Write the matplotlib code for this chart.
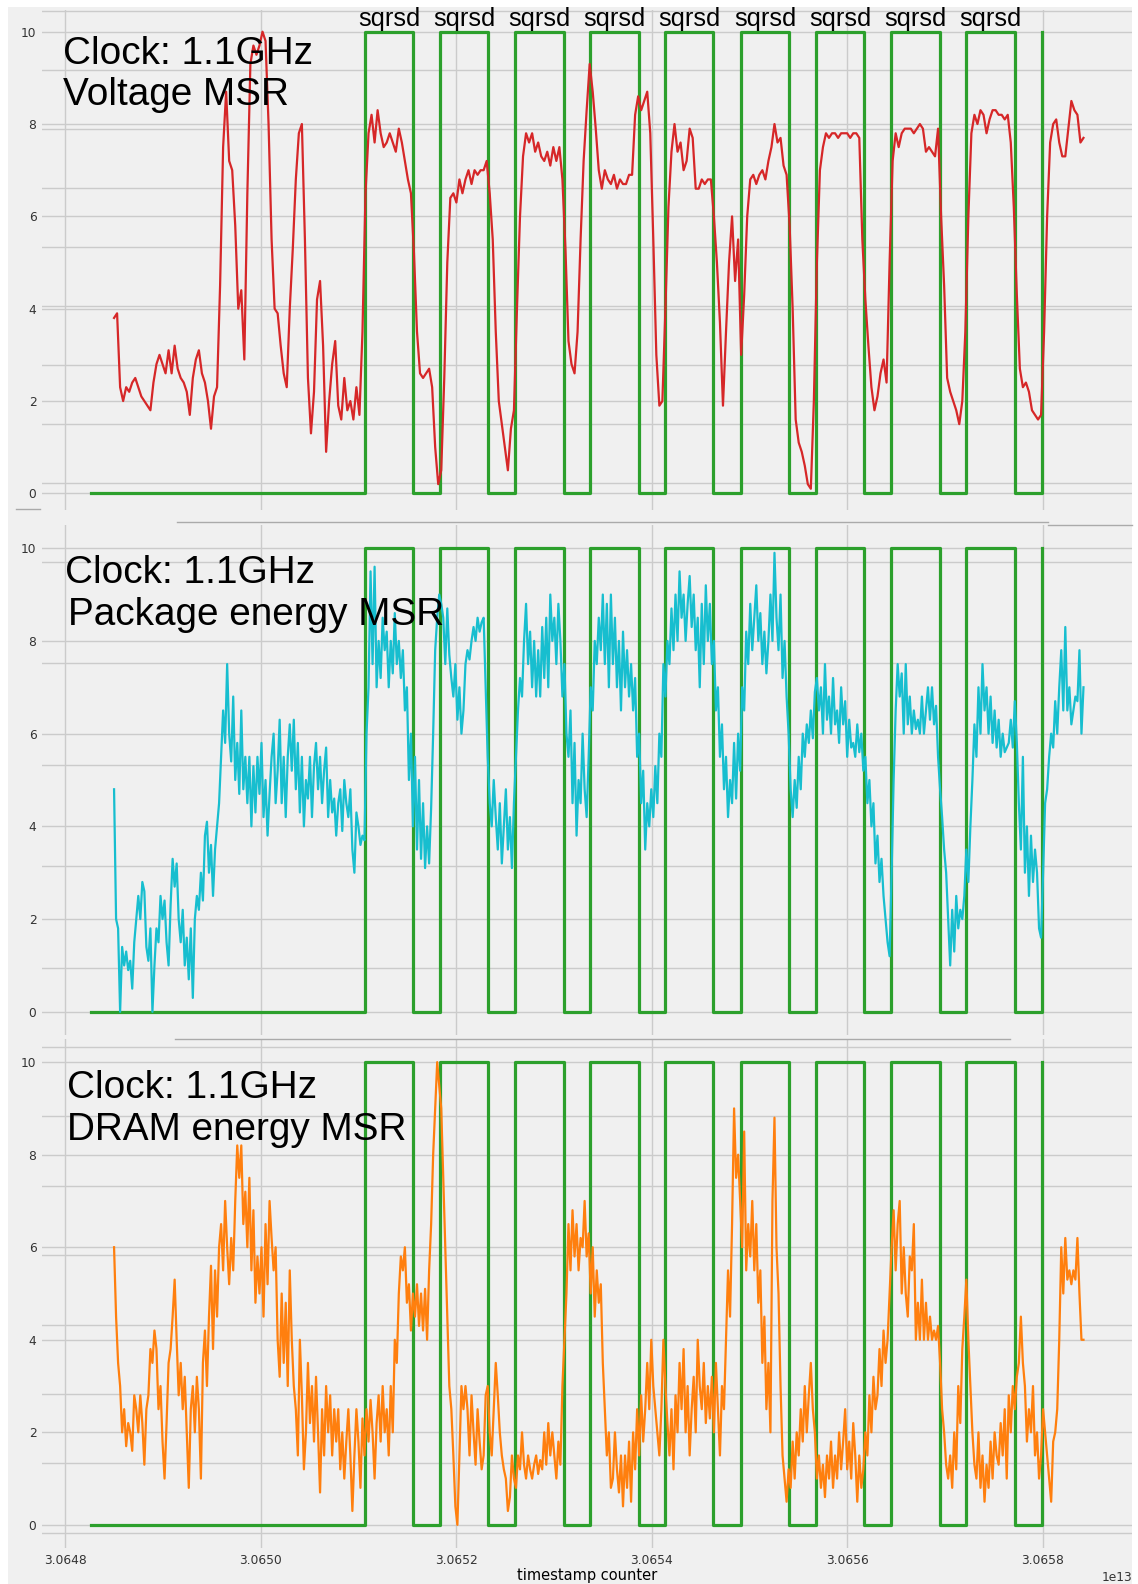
import numpy as np
import matplotlib
matplotlib.use("Agg")
import matplotlib.pyplot as plt
from matplotlib.ticker import FixedLocator, MultipleLocator
from matplotlib.lines import Line2D
from matplotlib.patches import Rectangle

# window in which the MSRs were sampled (tsc)
trace_start = 30648497000000
trace_end = 30658419000000

# sqrsd marker: rising / falling edges
wave_start = 30648258000000
pulse_rise = [30651065000000, 30651833000000, 30652601000000, 30653371000000, 30654136000000,
              30654911000000, 30655678000000, 30656449000000, 30657217000000, 30657991000000]
pulse_fall = [30651560000000, 30652327000000, 30653102000000, 30653870000000, 30654632000000,
              30655408000000, 30656176000000, 30656951000000, 30657715000000]
pulse_high = 10
pulse_label = "sqrsd"

# voltage MSR (scaled 0-10)
voltage = [3.8, 3.9, 2.3, 2.0, 2.3, 2.2, 2.4, 2.5, 2.3, 2.1, 2.0, 1.9, 1.8, 2.4, 2.8, 3.0, 2.8, 2.6, 3.1, 2.6,
           3.2, 2.7, 2.5, 2.4, 2.2, 1.7, 2.5, 2.9, 3.1, 2.6, 2.4, 2.0, 1.4, 2.1, 2.3, 4.5, 7.5, 8.7, 7.2, 7.0,
           5.8, 4.0, 4.4, 2.9, 6.5, 9.3, 9.7, 9.5, 9.7, 10.0, 9.8, 8.0, 5.5, 4.0, 3.9, 3.2, 2.6, 2.3, 4.0, 5.3,
           6.8, 7.8, 8.0, 5.5, 2.5, 1.3, 2.2, 4.2, 4.6, 3.2, 0.9, 2.0, 2.8, 3.3, 1.9, 1.6, 2.5, 1.8, 2.0, 1.6,
           2.3, 1.7, 3.5, 6.5, 7.8, 8.2, 7.6, 8.3, 7.8, 7.5, 7.6, 7.8, 7.6, 7.4, 7.9, 7.6, 7.2, 6.8, 6.5, 5.2,
           3.5, 2.6, 2.5, 2.6, 2.7, 2.3, 1.0, 0.2, 0.5, 2.5, 5.0, 6.4, 6.5, 6.3, 6.8, 6.5, 6.8, 7.0, 6.7, 7.0,
           6.9, 7.0, 7.0, 7.2, 6.5, 5.5, 3.5, 2.0, 1.5, 1.0, 0.5, 1.4, 1.8, 4.0, 6.0, 7.3, 7.8, 7.6, 7.8, 7.4,
           7.6, 7.3, 7.2, 7.4, 7.1, 7.5, 7.2, 7.5, 6.8, 5.3, 3.3, 2.8, 2.6, 3.5, 5.5, 7.2, 8.3, 9.3, 8.7, 7.9,
           7.0, 6.6, 7.0, 6.8, 6.7, 6.9, 6.6, 6.8, 6.7, 6.7, 6.9, 6.9, 8.2, 8.6, 8.3, 8.5, 8.7, 7.8, 5.5, 3.0,
           1.9, 2.0, 4.0, 6.2, 7.4, 8.0, 7.4, 7.6, 7.0, 7.2, 7.9, 7.7, 6.6, 6.6, 6.8, 6.7, 6.8, 6.8, 6.0, 5.0,
           3.7, 1.9, 3.5, 5.0, 6.0, 4.6, 5.5, 3.0, 4.3, 6.0, 6.8, 6.9, 6.7, 6.9, 7.0, 6.8, 7.2, 7.5, 8.0, 7.6,
           7.7, 7.1, 6.9, 5.8, 4.0, 1.6, 1.1, 0.9, 0.6, 0.2, 0.1, 2.0, 5.0, 7.0, 7.5, 7.8, 7.7, 7.8, 7.8, 7.7,
           7.8, 7.8, 7.8, 7.7, 7.8, 7.8, 7.7, 5.5, 4.2, 3.2, 2.3, 1.8, 2.1, 2.6, 2.9, 2.4, 5.0, 7.2, 7.8, 7.5,
           7.8, 7.9, 7.9, 7.9, 7.8, 7.9, 8.0, 7.9, 7.4, 7.5, 7.4, 7.3, 7.9, 6.0, 4.5, 2.5, 2.2, 2.0, 1.8, 1.5,
           2.0, 3.5, 6.0, 7.8, 8.2, 8.0, 8.3, 8.2, 7.8, 8.1, 8.3, 8.3, 8.2, 8.2, 8.1, 8.2, 7.6, 6.2, 4.3, 2.7,
           2.3, 2.4, 2.2, 1.8, 1.7, 1.6, 1.7, 3.5, 6.0, 7.6, 8.0, 8.1, 7.6, 7.3, 7.3, 7.9, 8.5, 8.3, 8.2, 7.6,
           7.7]

# package energy MSR (scaled 0-10)
package = [4.8, 2.0, 1.8, 0.0, 1.4, 1.0, 1.3, 0.9, 1.1, 0.5, 1.5, 2.0, 2.5, 2.0, 2.8, 2.6, 1.4, 1.1, 1.8, 0.0,
           1.0, 1.8, 1.5, 2.5, 2.0, 2.4, 1.5, 1.0, 2.3, 3.3, 2.7, 3.2, 2.0, 1.5, 2.2, 1.0, 1.6, 0.7, 1.8, 0.3,
           2.0, 2.5, 2.2, 3.0, 2.4, 3.8, 4.1, 3.0, 3.6, 2.5, 3.5, 4.0, 4.5, 5.5, 6.5, 5.8, 7.5, 6.0, 5.4, 6.8,
           5.0, 5.8, 4.7, 6.5, 4.8, 5.5, 4.5, 5.5, 4.0, 5.3, 4.3, 5.5, 4.7, 5.8, 4.2, 5.0, 3.8, 4.7, 5.5, 6.0,
           4.5, 5.2, 6.3, 4.5, 5.5, 4.2, 5.5, 6.2, 5.2, 6.3, 4.8, 5.8, 4.3, 5.5, 4.0, 5.0, 4.6, 5.5, 4.2, 5.3,
           5.8, 4.8, 5.5, 4.5, 5.2, 5.7, 4.2, 5.0, 4.3, 4.6, 3.8, 4.5, 4.8, 3.9, 5.0, 4.5, 4.2, 4.8, 3.5, 3.0,
           4.3, 4.0, 3.6, 3.8, 3.7, 6.0, 7.0, 9.5, 7.5, 9.6, 7.0, 8.0, 7.2, 8.5, 7.8, 8.2, 7.0, 8.0, 7.3, 8.6,
           7.5, 8.0, 7.2, 7.8, 6.5, 7.0, 5.0, 6.0, 4.0, 5.5, 3.5, 5.0, 3.3, 4.5, 3.1, 4.0, 3.2, 4.4, 6.0, 7.8,
           8.5, 9.0, 8.8, 8.5, 7.5, 8.7, 7.7, 7.2, 6.8, 7.5, 6.3, 7.0, 6.0, 6.5, 7.5, 7.8, 7.6, 8.0, 8.3, 8.0,
           8.5, 8.2, 8.4, 8.5, 7.0, 5.5, 4.5, 4.0, 5.0, 4.2, 3.5, 4.5, 3.2, 4.0, 4.8, 3.5, 4.2, 3.1, 4.5, 5.5,
           6.5, 7.2, 6.8, 8.0, 8.8, 7.5, 8.2, 7.0, 8.0, 6.8, 7.8, 6.8, 8.3, 7.2, 8.5, 7.0, 9.0, 8.0, 8.5, 7.5,
           8.8, 8.0, 6.8, 7.5, 6.0, 5.5, 6.5, 4.5, 5.8, 3.8, 5.0, 4.5, 6.0, 4.8, 4.2, 5.5, 7.0, 6.5, 8.0, 7.5,
           8.5, 7.8, 9.0, 7.5, 8.8, 7.0, 9.0, 7.5, 8.5, 7.0, 8.0, 6.5, 8.2, 7.0, 7.8, 6.8, 7.5, 6.5, 7.2, 5.5,
           6.0, 4.5, 5.2, 3.5, 4.5, 4.0, 4.8, 4.2, 5.3, 4.5, 6.0, 5.5, 7.5, 6.8, 8.0, 7.5, 8.7, 7.8, 9.0, 8.0,
           9.5, 8.5, 9.0, 8.0, 8.8, 9.4, 8.3, 9.0, 7.8, 8.5, 7.0, 8.8, 7.5, 9.2, 8.0, 8.8, 7.5, 8.0, 6.5, 7.0,
           5.5, 6.2, 4.8, 5.5, 4.2, 5.0, 4.5, 5.8, 4.6, 6.0, 5.2, 7.0, 6.5, 8.2, 7.5, 8.8, 7.8, 8.5, 9.2, 8.0,
           8.6, 7.5, 8.2, 7.3, 8.0, 9.0, 8.0, 9.9, 8.5, 7.8, 9.0, 7.2, 8.0, 6.8, 6.0, 4.8, 4.2, 5.0, 4.4, 5.5,
           4.8, 6.0, 5.5, 6.2, 5.8, 6.5, 5.9, 6.9, 7.2, 6.5, 7.0, 6.0, 7.5, 6.3, 6.8, 6.0, 7.2, 6.2, 6.5, 5.8,
           7.0, 6.2, 6.7, 5.5, 6.3, 5.7, 5.8, 5.5, 6.2, 5.6, 6.0, 5.2, 5.5, 4.5, 5.0, 4.0, 4.5, 3.2, 3.8, 2.8,
           3.3, 2.5, 2.0, 1.5, 1.2, 3.0, 5.0, 6.5, 7.5, 6.8, 7.3, 6.0, 7.5, 6.2, 6.8, 6.0, 6.5, 6.1, 6.3, 6.0,
           6.8, 6.0, 6.5, 7.0, 6.3, 7.0, 6.2, 6.6, 5.5, 4.8, 4.2, 3.5, 3.0, 2.0, 1.0, 2.2, 1.3, 2.5, 1.8, 2.2,
           2.0, 2.5, 3.5, 2.8, 4.0, 5.0, 6.2, 5.5, 7.0, 6.0, 7.5, 6.5, 7.0, 6.0, 6.8, 5.8, 6.5, 5.7, 6.3, 5.5,
           6.0, 5.6, 5.7, 5.8, 6.3, 5.7, 6.7, 5.8, 4.5, 3.5, 5.5, 3.0, 4.0, 2.5, 3.8, 2.8, 3.5, 3.0, 1.8, 1.6,
           3.0, 4.5, 4.8, 5.5, 6.0, 5.7, 6.7, 6.0, 7.0, 7.8, 6.5, 8.3, 6.5, 7.0, 6.2, 6.5, 6.8, 6.7, 7.8, 6.0,
           7.0]

# DRAM energy MSR (scaled 0-10)
dram = [6.0, 4.5, 3.5, 3.0, 2.0, 2.5, 1.7, 2.2, 2.0, 1.6, 2.8, 2.5, 2.0, 2.8, 2.2, 1.3, 2.5, 2.8, 3.8, 3.5,
        4.2, 3.8, 2.5, 3.0, 1.8, 1.0, 2.2, 3.5, 3.8, 4.5, 5.3, 4.0, 2.8, 3.5, 2.5, 3.2, 2.0, 0.8, 2.5, 3.0,
        2.0, 3.2, 2.5, 1.0, 3.5, 4.2, 3.0, 4.5, 5.6, 3.8, 5.5, 4.5, 6.0, 6.5, 5.5, 7.0, 6.0, 5.2, 6.2, 5.5,
        7.0, 8.2, 7.5, 8.2, 6.5, 7.2, 6.0, 7.5, 5.5, 6.8, 4.8, 5.8, 5.0, 6.0, 4.5, 6.5, 5.2, 7.0, 6.2, 5.5,
        6.0, 4.0, 3.2, 5.0, 3.5, 4.8, 3.0, 5.5, 4.0, 3.0, 2.5, 1.5, 4.0, 2.8, 1.2, 2.0, 3.5, 2.2, 3.0, 1.8,
        3.2, 2.0, 0.7, 2.5, 1.5, 3.0, 2.0, 2.8, 1.5, 2.5, 1.8, 2.5, 1.2, 2.0, 1.0, 1.8, 2.5, 1.5, 0.3, 1.5,
        2.5, 1.8, 0.8, 2.3, 1.5, 2.5, 1.8, 2.7, 2.0, 1.0, 2.2, 2.8, 1.8, 3.0, 2.0, 2.5, 1.5, 3.0, 2.0, 4.0,
        3.5, 5.0, 5.8, 5.5, 6.0, 4.8, 5.2, 4.2, 5.0, 4.5, 5.2, 4.3, 5.0, 4.2, 5.1, 4.0, 5.5, 6.5, 8.0, 9.0,
        10.0, 9.5, 9.0, 7.5, 6.0, 4.5, 3.0, 2.5, 1.5, 0.4, 0.0, 1.5, 3.0, 2.5, 3.0, 2.5, 1.5, 2.8, 2.0, 1.3,
        2.5, 1.8, 1.2, 1.5, 2.8, 3.0, 2.0, 1.5, 2.5, 3.5, 2.8, 2.0, 1.5, 1.2, 1.0, 0.3, 0.6, 1.5, 1.0, 0.8,
        1.5, 1.2, 2.0, 1.3, 1.0, 1.5, 1.2, 1.0, 1.3, 1.5, 1.1, 1.4, 1.2, 2.0, 1.3, 2.2, 1.5, 2.0, 1.5, 1.0,
        1.8, 1.3, 3.0, 4.0, 5.0, 6.5, 5.5, 6.8, 5.8, 6.5, 5.5, 6.2, 6.0, 7.0, 5.8, 6.3, 5.0, 6.0, 4.5, 5.5,
        4.8, 5.2, 3.5, 2.5, 1.5, 2.0, 0.8, 1.0, 2.0, 1.2, 0.7, 1.5, 0.4, 1.5, 0.8, 1.8, 0.5, 2.0, 1.2, 2.5,
        1.5, 2.8, 1.8, 2.5, 3.5, 2.5, 4.0, 3.0, 2.5, 2.0, 1.5, 2.5, 4.0, 3.0, 2.2, 1.5, 2.5, 1.2, 2.8, 2.0,
        3.5, 2.5, 3.8, 2.0, 3.0, 1.5, 2.5, 3.2, 2.0, 4.0, 3.0, 2.5, 3.5, 2.2, 3.0, 2.3, 3.2, 2.0, 3.5, 2.5,
        1.5, 3.0, 2.5, 4.0, 5.5, 4.5, 6.5, 9.0, 7.5, 8.0, 7.0, 6.0, 8.5, 5.5, 6.5, 5.8, 7.0, 5.5, 6.5, 4.8,
        5.5, 3.5, 4.5, 2.5, 3.5, 2.0, 7.0, 8.8, 6.0, 5.0, 3.0, 1.5, 1.0, 0.5, 1.2, 0.8, 1.8, 1.0, 2.0, 1.5,
        2.5, 1.8, 3.0, 2.0, 2.8, 3.5, 2.5, 2.0, 1.0, 1.5, 0.8, 1.3, 0.6, 1.5, 1.0, 1.8, 0.8, 1.5, 1.0, 2.0,
        1.2, 1.8, 2.5, 1.2, 1.8, 1.0, 2.2, 1.5, 0.5, 1.5, 0.8, 1.2, 2.0, 1.5, 2.8, 2.0, 3.2, 2.5, 2.8, 3.8,
        3.0, 4.2, 3.5, 4.0, 5.0, 6.0, 6.8, 5.5, 6.5, 7.0, 5.0, 6.0, 5.0, 4.5, 5.8, 5.5, 6.5, 4.0, 4.8, 4.0,
        5.3, 4.0, 4.8, 4.0, 4.5, 4.0, 4.2, 4.0, 4.3, 3.5, 2.5, 2.0, 1.3, 1.0, 1.5, 0.8, 2.0, 1.2, 3.0, 2.2,
        3.8, 4.5, 5.3, 4.0, 3.0, 2.0, 1.3, 1.0, 2.0, 0.8, 1.5, 0.5, 1.3, 0.8, 1.8, 1.0, 2.0, 1.5, 1.3, 2.2,
        1.5, 2.5, 1.0, 2.8, 2.0, 3.0, 2.5, 3.2, 3.5, 4.5, 3.5, 3.0, 1.8, 2.5, 2.0, 3.0, 1.5, 2.0, 1.0, 1.5,
        2.5, 2.0, 1.5, 1.0, 0.5, 1.8, 2.0, 2.5, 4.0, 6.0, 5.0, 6.2, 5.3, 5.5, 5.2, 5.5, 5.3, 6.2, 5.0, 4.0,
        4.0]

panels = [
    ("Voltage MSR", voltage, "#d62728"),
    ("Package energy MSR", package, "#17becf"),
    ("DRAM energy MSR", dram, "#ff7f0e"),
]
clock = "Clock: 1.1GHz"

# extra grid rows left over from the secondary scale of each panel
extra_grid = [
    [0.22, 1.5, 2.77, 4.05, 5.33, 6.61, 7.89, 9.17, 10.45],
    [0.95, 3.14, 5.33, 7.52, 9.71],
    [-0.17, 1.33, 2.83, 4.33, 5.83, 7.33, 8.83, 10.33],
]

W, H = 1138, 1584
bg = "#f0f0f0"
grid_c = "#cbcbcb"

fig = plt.figure(figsize=(W / 100, H / 100), dpi=100, facecolor="white")
fig.patches.append(Rectangle((8 / W, 0), 1124 / W, 1 - 7 / H, transform=fig.transFigure,
                             facecolor=bg, edgecolor="none", zorder=-10))

# panel boxes in pixels: (top, bottom), ylim
boxes = [((10, 510), (-0.36, 10.47)), ((525, 1035), (-0.5, 10.5)), ((1039, 1548), (-0.5, 10.5))]
text_pos = [((0.0195, 0.893), (0.0195, 0.810)),
            ((0.0215, 0.886), (0.0236, 0.804)),
            ((0.0225, 0.884), (0.0225, 0.802))]

# square wave built from the edges
sq_x = [wave_start]
sq_y = [0]
for i, r in enumerate(pulse_rise):
    sq_x += [r, r]
    sq_y += [0, pulse_high]
    if i < len(pulse_fall):
        sq_x += [pulse_fall[i], pulse_fall[i]]
        sq_y += [pulse_high, 0]

axes = []
for k, ((top, bot), ylim) in enumerate(boxes):
    ax = fig.add_axes([42 / W, 1 - bot / H, 1090 / W, (bot - top) / H],
                      sharex=axes[0] if axes else None)
    ax.set_facecolor(bg)
    for s in ax.spines.values():
        s.set_visible(False)
    ax.set_axisbelow(True)
    ax.grid(True, which="major", color=grid_c, lw=1.0)
    ax.yaxis.set_minor_locator(FixedLocator(extra_grid[k]))
    ax.grid(True, which="minor", axis="y", color=grid_c, lw=1.0)
    ax.tick_params(which="both", length=0, labelsize=8.8, labelcolor="#333333", pad=4)
    ax.set_yticks(range(0, 11, 2))
    ax.set_ylim(*ylim)

    name, vals, col = panels[k]
    t = np.linspace(trace_start, trace_end, len(vals))
    ax.plot(sq_x, sq_y, color="#2ca02c", lw=2.3, zorder=2)
    ax.plot(t, vals, color=col, lw=1.6, zorder=3)

    (x1, y1), (x2, y2) = text_pos[k]
    ax.text(x1, y1, clock, transform=ax.transAxes, fontsize=27.9, family="Liberation Sans",
            va="baseline", ha="left", zorder=5)
    ax.text(x2, y2, name, transform=ax.transAxes, fontsize=27.9, family="Liberation Sans",
            va="baseline", ha="left", zorder=5)
    axes.append(ax)

# sqrsd labels over the top panel
for r, f in zip(pulse_rise, pulse_fall):
    axes[0].text((r + f) / 2, 10.12, pulse_label, fontsize=18.3, family="Liberation Sans",
                 ha="center", va="baseline", zorder=5)

axes[0].set_xlim(30647759500000, 30658915600000)
axes[0].xaxis.set_major_locator(MultipleLocator(2e9))
for ax in axes[:2]:
    ax.tick_params(axis="x", labelbottom=False)
axes[2].ticklabel_format(axis="x", style="sci", scilimits=(0, 0), useOffset=False)
axes[2].xaxis.get_offset_text().set_fontsize(8.8)
axes[2].set_xlabel("timestamp counter", fontsize=10.5, labelpad=1)

# leftover divider strokes between the stacked panels
for (x0, x1, y) in [(16, 40, 509), (177, 1048, 522), (1048, 1132, 525), (175, 1010, 1039)]:
    fig.add_artist(Line2D([x0 / W, x1 / W], [1 - y / H, 1 - y / H], color="#aaaaaa", lw=1.0))

fig.savefig("out.png", dpi=100, facecolor="white")
